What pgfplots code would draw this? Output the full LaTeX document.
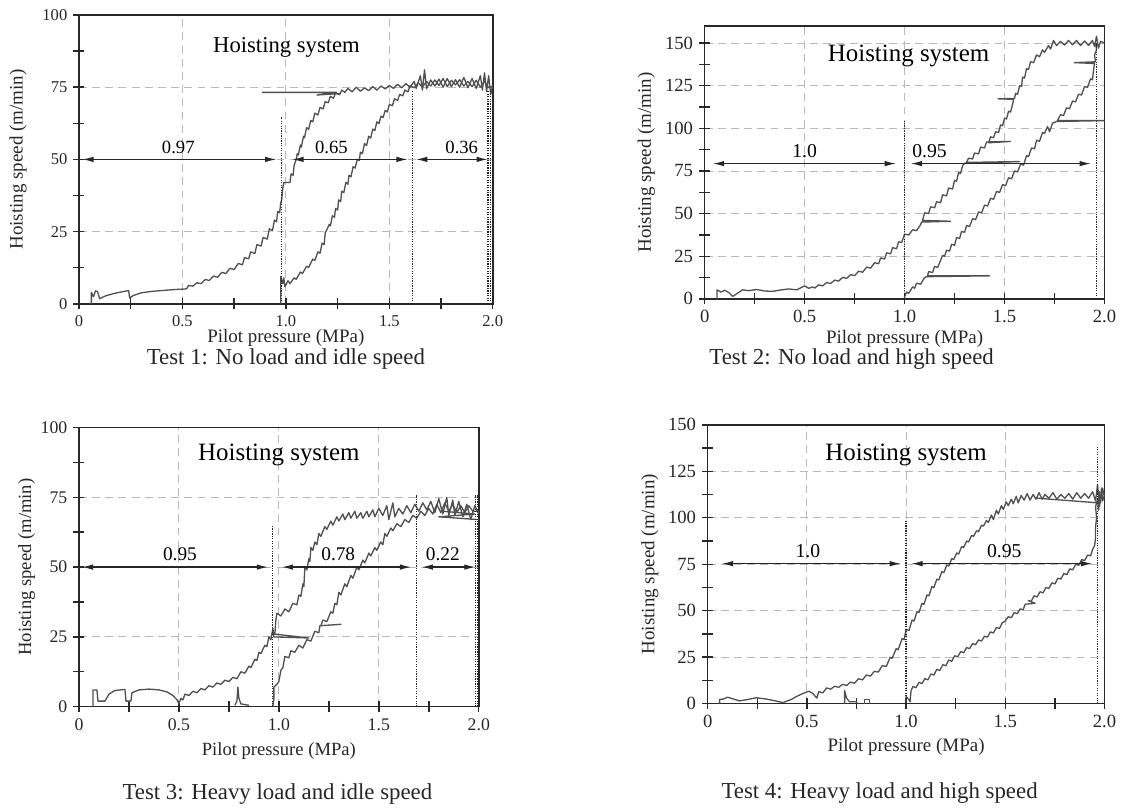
\documentclass[border=0pt]{standalone}
\usepackage{fontspec}
\setmainfont{Liberation Serif}
\usepackage{pgfplots}
\pgfplotsset{compat=1.18}
\usetikzlibrary{arrows.meta}

\definecolor{curvegray}{RGB}{80,80,80}
\definecolor{framegray}{RGB}{40,40,40}

\tikzset{
  hcurve/.style={curvegray, line width=0.75pt, line join=round},
  dimarrow/.style={{Latex[length=2.3mm,width=1.1mm]}-{Latex[length=2.3mm,width=1.1mm]}, black!85, line width=0.75pt},
  guide/.style={black!85, line width=0.7pt, dash pattern=on 0.7pt off 0.7pt},
}
\pgfplotsset{
  hoist/.style={
    scale only axis, anchor=south west,
    xmin=0, xmax=2, ymin=0,
    xtick={0,0.5,1,1.5,2}, xticklabels={0,0.5,1.0,1.5,2.0},
    minor x tick num=1, minor y tick num=1,
    tick pos=left, tick align=center,
    major tick length=0.22cm, minor tick length=0.22cm,
    every tick/.style={framegray, line width=0.8pt},
    axis line style={framegray, line width=0.9pt},
    grid=major,
    major grid style={gray!55, line width=0.5pt, dash pattern=on 4.5pt off 3pt},
    /pgf/number format/assume math mode=true,
    xlabel={Pilot pressure (MPa)}, ylabel={Hoisting speed (m/min)},
    label style={text=black!85}, ticklabel style={text=black!85},
  },
}

\begin{document}
\begin{tikzpicture}
\path (0,0) rectangle (22.44,16.16);

% ---------------- Test 1 ----------------
\begin{axis}[hoist, at={(1.58cm,10.08cm)}, width=8.28cm, height=5.78cm,
  ymax=100, ytick={0,25,50,75,100},
  tick label style={font=\fontsize{9.4}{10}\selectfont},
  label style={font=\fontsize{10.8}{12}\selectfont},
  ylabel style={at={(axis description cs:-0.147,0.5)}, anchor=center},
  xlabel style={at={(axis description cs:0.5,-0.118)}, anchor=center}]
\addplot[hcurve] coordinates {
(0.06,0) (0.06,4) (0.07,2.5) (0.08,4.5) (0.09,4.2) (0.10,1.8) (0.13,2.8) (0.17,3.6) (0.21,4.2) (0.24,4.6)
(0.245,2) (0.26,2.8) (0.30,3.8) (0.35,4.3) (0.40,4.6) (0.45,4.9) (0.50,5.1) (0.52,5.2) (0.53,6.4) (0.55,6.1)
(0.57,7.3) (0.59,7.0) (0.61,8.4) (0.63,8.1) (0.65,9.6) (0.67,9.2) (0.69,10.9) (0.71,10.5) (0.73,12.3) (0.75,11.9)
(0.77,14) (0.79,13.5) (0.80,16) (0.82,15.6) (0.83,18) (0.85,17.4) (0.86,20.5) (0.88,20) (0.89,23) (0.91,22.4)
(0.92,26) (0.935,25.3) (0.945,29) (0.955,28.4) (0.96,32) (0.97,31.5) (0.975,35) (0.98,36) (0.985,40) (0.99,42)
(1.02,42) (1.025,45) (1.035,44.5) (1.04,48) (1.05,50) (1.055,52) (1.06,51.5) (1.07,55) (1.075,54.3) (1.085,58)
(1.09,57.5) (1.1,61) (1.11,60.4) (1.12,63.5) (1.13,63) (1.14,66) (1.155,65.4) (1.165,68) (1.18,67.5) (1.19,70)
(1.205,69.6) (1.215,71.8) (1.23,71.2) (1.24,73) (1.26,72.4) (1.27,74) (1.285,73.2) (1.3,74.6) (1.32,73.4) (1.34,75)
(1.36,73.6) (1.38,74.8) (1.40,73.8) (1.42,75.2) (1.44,74) (1.46,75.4) (1.48,74.4) (1.50,75.6) (1.52,74.6) (1.54,76)
(1.56,74.8) (1.58,76.2) (1.60,75) (1.62,77) (1.63,74.6) (1.65,79) (1.66,74) (1.67,81) (1.68,74.5) (1.70,77.5)
(1.72,75.4) (1.74,77.8) (1.76,75) (1.78,78) (1.80,75.2) (1.82,77.6) (1.84,75) (1.86,78.4) (1.88,74.8) (1.90,78)
(1.92,74.6) (1.94,79) (1.95,74) (1.96,80) (1.97,73.5) (1.98,79) (1.99,72.5) (2.0,76)};
\addplot[hcurve] coordinates {(0.885,73.2) (1.245,73.2) (1.15,72.3) (1.26,72.8)};
\addplot[hcurve] coordinates {
(0.975,0) (0.975,9.5) (0.985,7) (0.99,9) (0.995,6) (1.0,6.5) (1.01,8) (1.02,7) (1.04,9) (1.05,8.5)
(1.07,11) (1.08,10.5) (1.1,13) (1.11,12.6) (1.13,15.5) (1.14,15) (1.155,18) (1.165,17.5) (1.175,21) (1.185,20.5)
(1.19,24.5) (1.2,26) (1.21,27.5) (1.215,27) (1.225,30.5) (1.235,30) (1.24,33) (1.25,32.5) (1.255,36) (1.265,35.4)
(1.27,39) (1.28,38.5) (1.29,42) (1.30,41.4) (1.305,44.5) (1.315,44) (1.325,47.5) (1.335,47) (1.345,50) (1.355,49.6)
(1.36,52.5) (1.37,52) (1.38,55.5) (1.39,54.8) (1.40,58) (1.41,57.4) (1.42,60.5) (1.43,60) (1.44,63) (1.45,62.4)
(1.46,65) (1.47,64.5) (1.48,67) (1.49,66.4) (1.50,69) (1.515,68.6) (1.525,71) (1.54,70.4) (1.55,72.5) (1.565,72)
(1.575,74) (1.59,73.4) (1.60,75.5) (1.62,74.8) (1.64,76.5) (1.66,75) (1.68,77) (1.70,75.4) (1.72,77.5) (1.74,75.6)
(1.76,78) (1.78,75.2) (1.80,77.4) (1.82,75.8) (1.84,77.6) (1.86,75.4) (1.88,77) (1.90,75.2) (1.92,77.4) (1.94,75)
(1.96,77) (1.98,74.8) (2.0,75.5)};
\draw[guide] (0.98,0) -- (0.98,64.8);
\draw[guide] (1.612,0) -- (1.612,74);
\draw[guide] (1.977,0) -- (1.977,74);
\draw[guide] (1.99,0) -- (1.99,74);
\draw[dimarrow] (0.015,50) -- (0.955,50);
\draw[dimarrow] (1.03,50) -- (1.59,50);
\draw[dimarrow] (1.628,50) -- (1.977,50);
\begin{scope}[font=\fontsize{10.6}{12}\selectfont]
\node at (0.48,54.2) {0.97};
\node at (1.22,54.2) {0.65};
\node at (1.85,54.2) {0.36};
\end{scope}
\node[font=\fontsize{12.9}{14}\selectfont] at (1.003,88.6) {Hoisting system};
\end{axis}

% ---------------- Test 2 ----------------
\begin{axis}[hoist, at={(14.10cm,10.18cm)}, width=8.0cm, height=5.46cm,
  ymax=160, ytick={0,25,50,75,100,125,150},
  tick label style={font=\fontsize{10.6}{12}\selectfont},
  label style={font=\fontsize{10.8}{12}\selectfont},
  ylabel style={at={(axis description cs:-0.146,0.5)}, anchor=center},
  xlabel style={at={(axis description cs:0.5,-0.146)}, anchor=center}]
\addplot[hcurve] coordinates {
(0.062,0) (0.062,5.3) (0.08,4) (0.1,5) (0.12,3.8) (0.14,1.4) (0.16,3) (0.19,5.3) (0.22,4.8) (0.26,5.5)
(0.30,4.6) (0.34,4.4) (0.38,5.2) (0.42,5.8) (0.46,5.3) (0.5,7.6) (0.52,6.2) (0.54,7) (0.55,6.3) (0.57,8.2)
(0.59,7.6) (0.61,9.6) (0.63,9) (0.65,11) (0.67,10.4) (0.69,12.6) (0.71,12) (0.73,14.2) (0.75,13.6) (0.77,16.2)
(0.79,15.6) (0.81,18.6) (0.83,18) (0.85,21.2) (0.87,20.6) (0.88,24) (0.90,23.4) (0.91,27) (0.93,26.4) (0.94,30)
(0.96,29.4) (0.97,33.5) (0.985,33) (1.0,38) (1.02,37.4) (1.04,40.5) (1.06,40) (1.08,43.5) (1.085,45) (1.23,45.5)
(1.09,46) (1.10,50.5) (1.12,50) (1.13,54) (1.15,53.4) (1.16,57) (1.18,56.4) (1.19,61) (1.21,60.4) (1.22,65)
(1.24,64.4) (1.25,69.5) (1.26,69) (1.27,74) (1.28,73.5) (1.29,78) (1.30,79.5) (1.575,80.5) (1.31,80) (1.32,82.5)
(1.34,82) (1.35,85.5) (1.37,85) (1.38,89) (1.40,88.5) (1.41,92) (1.53,92.3) (1.42,91.5) (1.43,95) (1.445,94.5)
(1.455,98) (1.47,97.5) (1.48,102) (1.49,101.5) (1.50,106) (1.51,105.5) (1.52,110) (1.53,109.5) (1.54,114) (1.545,117)
(1.467,117.3) (1.55,117.5) (1.555,120.5) (1.565,120) (1.575,125) (1.585,124.5) (1.59,130) (1.60,129.5) (1.61,135) (1.62,134.5)
(1.63,139) (1.645,138.5) (1.66,143) (1.675,142) (1.69,146) (1.70,144.5) (1.72,148.5) (1.73,146.5) (1.745,151.5) (1.76,148.5)
(1.78,151) (1.80,148.8) (1.82,151.5) (1.84,149) (1.86,151.5) (1.88,148.5) (1.90,151.2) (1.92,148.6) (1.94,151.5) (1.95,148)
(1.96,154) (1.97,147) (1.98,151) (2.0,150)};
\addplot[hcurve] coordinates {
(1.0,0) (1.0,1.4) (1.01,4) (1.02,3.2) (1.04,7) (1.05,6.2) (1.06,9.2) (1.08,8.6) (1.10,12.5) (1.11,13)
(1.425,13.5) (1.115,13.5) (1.12,16) (1.14,15.4) (1.15,19) (1.165,18.4) (1.18,22.5) (1.19,25.5) (1.20,25) (1.21,28.5)
(1.225,28) (1.235,32) (1.25,31.4) (1.26,36) (1.275,35.4) (1.285,39.5) (1.30,39) (1.31,43) (1.325,42.4) (1.34,47)
(1.355,46.4) (1.37,51) (1.385,50.4) (1.40,55) (1.415,54.4) (1.43,59) (1.445,58.4) (1.46,63) (1.475,62.4) (1.49,67)
(1.505,66.4) (1.52,71) (1.535,70.4) (1.55,75) (1.565,74.4) (1.58,79) (1.595,78.4) (1.61,84) (1.62,83.4) (1.635,88.5)
(1.65,88) (1.66,93) (1.675,92.4) (1.69,97.5) (1.70,97) (1.715,101) (1.725,98) (1.74,103) (1.76,104) (2.0,104.5)
(1.765,104.5) (1.78,108) (1.795,107.5) (1.81,112) (1.825,111.5) (1.84,116) (1.855,115.5) (1.87,120) (1.885,119.5) (1.90,124.5)
(1.915,124) (1.93,129) (1.94,128.5) (1.945,134) (1.95,138) (1.85,138.5) (1.955,139) (1.95,143) (1.96,146) (1.955,150)
(1.965,148)};
\draw[guide] (1.0,0) -- (1.0,104);
\draw[guide] (1.958,0) -- (1.958,150);
\draw[dimarrow] (0.04,79.3) -- (0.958,79.3);
\draw[dimarrow] (1.03,79.3) -- (1.933,79.3);
\begin{scope}[font=\fontsize{11.2}{12}\selectfont]
\node at (0.5,86.5) {1.0};
\node at (1.125,86.5) {0.95};
\end{scope}
\node[font=\fontsize{14.2}{16}\selectfont] at (1.02,142.4) {Hoisting system};
\end{axis}

% ---------------- Test 3 ----------------
\begin{axis}[hoist, at={(1.58cm,2.02cm)}, width=8.0cm, height=5.586cm,
  ymax=100, ytick={0,25,50,75,100},
  tick label style={font=\fontsize{10.1}{11}\selectfont},
  label style={font=\fontsize{10.6}{12}\selectfont},
  ylabel style={at={(axis description cs:-0.131,0.5)}, anchor=center},
  xlabel style={at={(axis description cs:0.5,-0.16)}, anchor=center}]
\addplot[hcurve] coordinates {
(0.07,0) (0.07,6) (0.09,6) (0.095,2) (0.13,2) (0.15,4.5) (0.18,5.8) (0.23,6.2) (0.235,2) (0.26,2)
(0.265,5) (0.30,6) (0.35,6.3) (0.40,6) (0.44,5.3) (0.47,4) (0.49,2.5) (0.50,1) (0.51,3) (0.52,2.4)
(0.53,4.5) (0.55,4) (0.57,5.5) (0.59,5) (0.61,6.5) (0.63,6) (0.65,7.5) (0.67,7) (0.69,8.5) (0.71,8)
(0.73,9.5) (0.75,9) (0.77,10.5) (0.79,10) (0.81,12.5) (0.83,12) (0.85,14.5) (0.86,14) (0.88,17) (0.89,16.5)
(0.90,19.5) (0.91,19) (0.93,22) (0.94,21.5) (0.95,25) (0.96,24) (0.97,28) (0.975,25) (1.15,24.6) (0.98,26)
(0.985,31) (0.99,33.5) (1.01,32.5) (1.03,35) (1.05,34) (1.07,37) (1.09,36.5) (1.10,40) (1.11,39.5) (1.12,44)
(1.125,43) (1.13,50) (1.14,49) (1.15,53) (1.155,52) (1.16,57) (1.17,56) (1.18,59) (1.19,58) (1.20,62)
(1.21,61) (1.23,64.5) (1.24,63.5) (1.26,66.5) (1.27,65) (1.29,68) (1.30,66.5) (1.32,69) (1.33,67) (1.35,69.5)
(1.36,67.5) (1.38,70) (1.39,67.5) (1.41,69.5) (1.42,67.5) (1.44,70) (1.45,68) (1.47,70.5) (1.48,68) (1.50,71)
(1.52,68.5) (1.54,72) (1.55,67) (1.57,73) (1.58,68) (1.60,71) (1.62,69) (1.64,72) (1.66,69.5) (1.68,72.5)
(1.70,70) (1.72,73) (1.74,70.5) (1.76,73.5) (1.78,69.5) (1.80,74.5) (1.82,69) (1.84,75) (1.85,68.5) (1.87,74)
(1.88,68.5) (1.90,73.5) (1.92,68) (1.94,72.5) (1.96,67) (1.98,72) (2.0,69)};
\addplot[hcurve] coordinates {(0.78,0.5) (0.79,2) (0.795,7) (0.80,3) (0.81,1) (0.85,0.5)};
\addplot[hcurve] coordinates {
(0.97,0) (0.975,3) (0.975,7) (0.99,8) (1.0,9) (1.01,13) (1.02,14) (1.03,18) (1.05,17.5) (1.06,20)
(1.08,19.5) (1.10,22) (1.12,21) (1.14,24) (1.16,23.5) (1.18,27) (1.20,26.5) (1.205,29) (1.31,29.5) (1.21,29)
(1.22,31) (1.24,30.5) (1.26,34) (1.27,33.5) (1.28,37) (1.29,36.5) (1.30,41) (1.31,40) (1.33,44) (1.34,43)
(1.36,47) (1.37,46) (1.39,50) (1.40,49) (1.42,52.5) (1.43,51.5) (1.45,55) (1.46,54) (1.48,57) (1.49,56)
(1.51,59) (1.52,58) (1.53,62) (1.54,61) (1.56,64) (1.57,63) (1.59,65.5) (1.61,64.5) (1.63,67) (1.65,66)
(1.67,68.5) (1.69,67.5) (1.71,70) (1.73,68.5) (1.75,71) (1.77,69) (1.79,72.5) (1.81,69.5) (1.83,73) (1.85,70)
(1.87,72.5) (1.89,69.5) (1.91,72) (1.93,69.5) (1.95,72) (1.97,70) (2.0,70)};
\addplot[hcurve] coordinates {(2.0,67) (1.80,68) (1.98,69) (1.82,70)};
\draw[guide] (0.968,0) -- (0.968,64.6);
\draw[guide] (1.688,0) -- (1.688,75.9);
\draw[guide] (1.985,0) -- (1.985,75.9);
\draw[guide] (1.995,0) -- (1.995,75.9);
\draw[dimarrow] (0.013,50) -- (0.947,50);
\draw[dimarrow] (1.013,50) -- (1.663,50);
\draw[dimarrow] (1.713,50) -- (1.985,50);
\begin{scope}[font=\fontsize{11}{12}\selectfont]
\node at (0.505,54.6) {0.95};
\node at (1.297,54.6) {0.78};
\node at (1.82,54.6) {0.22};
\end{scope}
\node[font=\fontsize{14.2}{16}\selectfont] at (1.0,90.2) {Hoisting system};
\end{axis}

% ---------------- Test 4 ----------------
\begin{axis}[hoist, at={(14.16cm,2.08cm)}, width=7.94cm, height=5.58cm,
  ymax=150, ytick={0,25,50,75,100,125,150},
  tick label style={font=\fontsize{10.6}{12}\selectfont},
  label style={font=\fontsize{10.8}{12}\selectfont},
  ylabel style={at={(axis description cs:-0.146,0.5)}, anchor=center},
  xlabel style={at={(axis description cs:0.5,-0.154)}, anchor=center}]
\addplot[hcurve] coordinates {
(0.06,0) (0.06,2.3) (0.08,2.5) (0.10,3.5) (0.13,2.5) (0.16,1.5) (0.20,2.2) (0.245,3.2) (0.30,2.4) (0.34,1.5)
(0.38,0.6) (0.42,2.2) (0.45,4) (0.48,5.5) (0.51,6.7) (0.53,5.5) (0.55,3) (0.56,6.5) (0.58,5.8) (0.60,8.5)
(0.62,7.8) (0.64,9.4) (0.66,8.8) (0.68,10.4) (0.70,9.8) (0.72,11.6) (0.74,11) (0.76,13.4) (0.78,12.8) (0.80,15.4)
(0.82,14.8) (0.84,17.4) (0.86,17) (0.88,20.5) (0.90,20) (0.92,25) (0.93,24.4) (0.95,29.6) (0.96,29) (0.98,35)
(0.99,34.4) (1.0,40) (1.015,39.4) (1.03,45) (1.04,44.4) (1.055,49.5) (1.065,49) (1.08,54) (1.09,53.4) (1.105,58.5)
(1.115,58) (1.13,63) (1.14,62.4) (1.155,67) (1.165,66.5) (1.18,71) (1.19,70.5) (1.205,74.5) (1.215,74) (1.23,78)
(1.24,77.5) (1.255,81) (1.265,80.5) (1.28,84.5) (1.29,84) (1.305,87.5) (1.315,87) (1.33,90.5) (1.34,90) (1.355,93)
(1.365,92.5) (1.38,96) (1.39,95.5) (1.405,98.5) (1.415,97.5) (1.43,101.5) (1.44,99) (1.455,104) (1.465,102) (1.48,106.5)
(1.49,104.5) (1.505,108.5) (1.515,106.5) (1.53,110) (1.54,107.5) (1.555,111.5) (1.565,108) (1.58,112) (1.595,109.5) (1.61,113)
(1.625,109.5) (1.64,112.5) (1.655,110) (1.67,113.5) (1.685,110) (1.70,112.5) (1.72,110.5) (1.74,113.5) (1.76,110) (1.78,112.5)
(1.80,110.5) (1.82,113) (1.84,110) (1.86,113.5) (1.88,110.5) (1.90,113) (1.92,110.5) (1.94,114) (1.955,109) (1.965,118)
(1.975,106) (1.985,116) (1.99,109) (2.0,112)};
\addplot[hcurve] coordinates {(1.97,108) (1.65,110.6)};
\addplot[hcurve] coordinates {(0.69,0) (0.69,7) (0.70,3) (0.715,1) (0.75,1) (0.755,0)};
\addplot[hcurve] coordinates {(0.79,0) (0.79,2.2) (0.815,2.2) (0.815,0)};
\addplot[hcurve] coordinates {
(1.0,0) (1.0,3.9) (1.015,2) (1.02,1) (1.025,7) (1.035,9.3) (1.05,8.6) (1.065,11.5) (1.08,10.8) (1.095,13.5)
(1.11,12.8) (1.125,16) (1.14,15.4) (1.155,18.5) (1.17,17.8) (1.185,21) (1.20,20.4) (1.215,23.5) (1.23,22.8) (1.245,25.8)
(1.26,25.2) (1.275,28) (1.29,27.4) (1.305,30.2) (1.32,29.6) (1.335,32.3) (1.35,31.7) (1.365,34.3) (1.38,33.7) (1.395,36.3)
(1.41,35.8) (1.425,38.6) (1.44,38) (1.455,41) (1.47,40.4) (1.485,43.5) (1.50,44.5) (1.515,46.8) (1.53,46.2) (1.545,49)
(1.56,48.4) (1.575,51) (1.59,50.4) (1.60,53.5) (1.65,54) (1.615,55.5) (1.63,55) (1.645,58) (1.66,57.4) (1.675,60.2)
(1.69,59.6) (1.705,62.5) (1.72,62) (1.735,65) (1.75,64.4) (1.765,67.5) (1.78,67) (1.795,70) (1.81,69.4) (1.825,72.5)
(1.84,72) (1.855,75) (1.87,74.4) (1.885,77.5) (1.90,77) (1.915,80) (1.93,79.5) (1.94,83) (1.95,85) (1.955,89)
(1.955,95) (1.96,100) (1.955,106) (1.965,110) (1.97,104) (1.975,114) (1.98,108) (1.99,116) (2.0,111)};
\draw[guide] (1.0,0) -- (1.0,98);
\draw[guide] (1.965,0) -- (1.965,138);
\draw[dimarrow] (0.07,75.3) -- (0.975,75.3);
\draw[dimarrow] (1.025,75.3) -- (1.94,75.3);
\begin{scope}[font=\fontsize{11.2}{12}\selectfont]
\node at (0.505,81.9) {1.0};
\node at (1.495,81.9) {0.95};
\end{scope}
\node[font=\fontsize{14.2}{16}\selectfont] at (1.0,133.9) {Hoisting system};
\end{axis}

% ---------------- captions ----------------
\begin{scope}[font=\fontsize{13}{15}\selectfont, text=black!85]
\node at (5.72,8.98) {Test 1: No load and idle speed};
\node at (17.04,8.98) {Test 2: No load and high speed};
\node at (5.55,0.28) {Test 3: Heavy load and idle speed};
\node at (17.6,0.30) {Test 4: Heavy load and high speed};
\end{scope}
\end{tikzpicture}
\end{document}
